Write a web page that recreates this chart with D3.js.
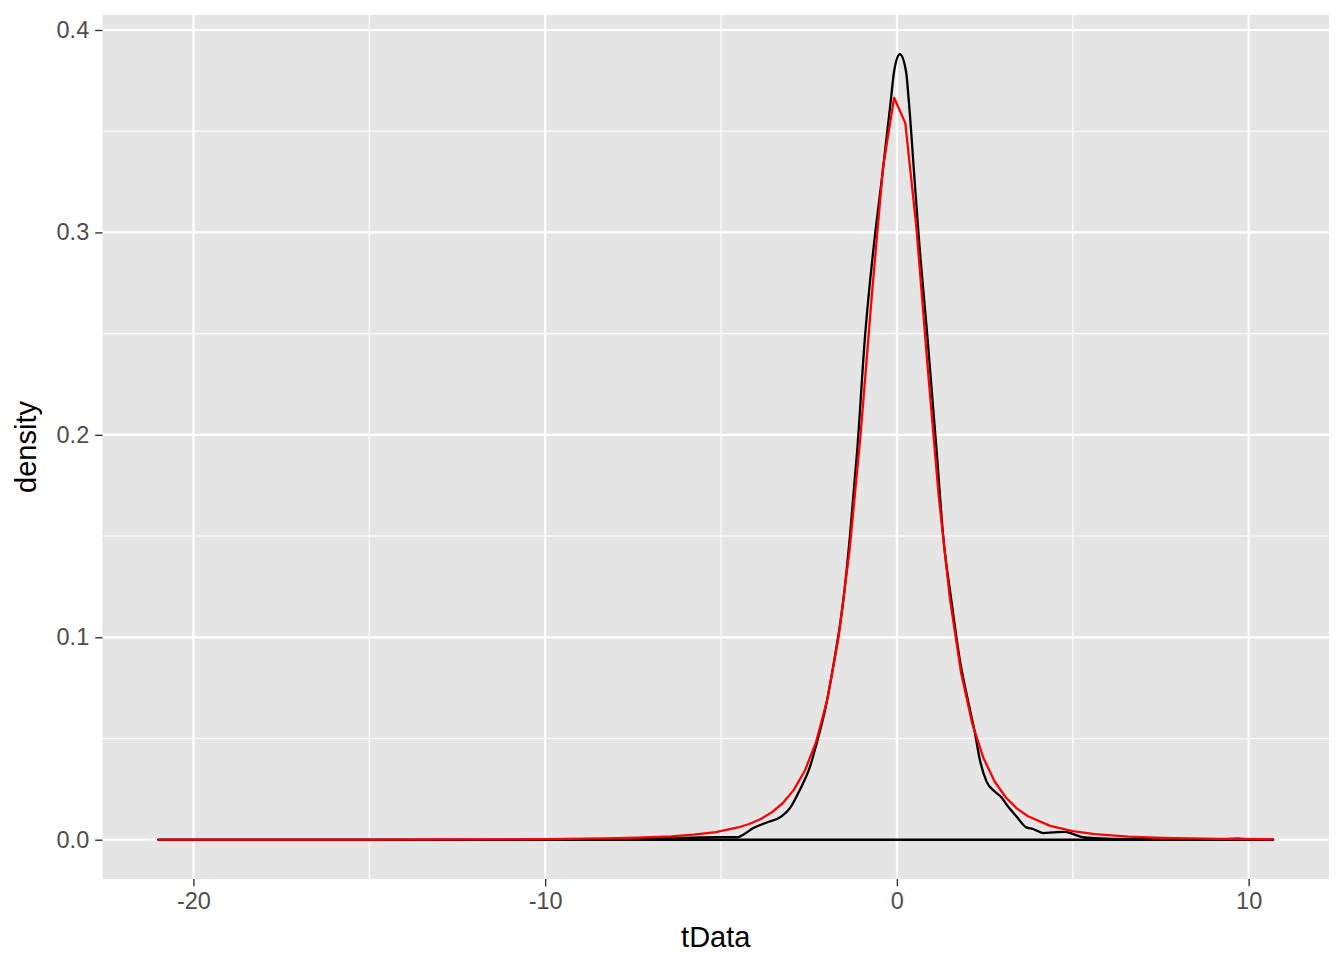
<!DOCTYPE html>
<html>
<head>
<meta charset="utf-8">
<script src="https://cdn.jsdelivr.net/npm/d3@7"></script>
<style>
  body { margin: 0; background: #ffffff; }
  svg { display: block; font-family: "Liberation Sans", Arial, Helvetica, sans-serif; }
  .grid-major { stroke: #ffffff; stroke-width: 2.2; }
  .grid-minor { stroke: #ffffff; stroke-width: 1.1; }
  .axis line { stroke: #333333; stroke-width: 1.4; }
  .axis text { fill: #4d4d4d; font-size: 23.5px; }
  .axis-title { fill: #000000; font-size: 29px; }
</style>
</head>
<body>
<svg id="chart" width="1344" height="960"></svg>
<script>
// Kernel density of tData (black)
var densityX = [-21, -19, -15, -11, -8, -6.5, -5.6, -5, -4.51, -4.37, -4.08, -3.70, -3.28, -3.04, -2.76,
  -2.47, -2.28, -2.045, -1.78, -1.525, -1.335, -1.13, -0.90, -0.64, -0.41, -0.176, -0.08, 0.085, 0.26,
  0.34, 0.49, 0.63, 0.86, 1.13, 1.316, 1.55, 1.79, 2.03, 2.22, 2.36, 2.55, 2.78, 2.97, 3.16, 3.40, 3.68,
  3.87, 4.16, 4.44, 4.77, 5.01, 5.29, 5.77, 6.5, 7.5, 8.5, 9.3, 9.7, 10.1, 10.7];
var densityY = [0.0001, 0.0001, 0.0001, 0.0001, 0.0002, 0.0008, 0.0012, 0.0013, 0.0013, 0.0025, 0.0058,
  0.0085, 0.0115, 0.0156, 0.0246, 0.0361, 0.0477, 0.064, 0.0887, 0.118, 0.150, 0.192, 0.25, 0.296, 0.329,
  0.3647, 0.3795, 0.388, 0.3795, 0.3647, 0.329, 0.296, 0.25, 0.192, 0.150, 0.118, 0.0887, 0.068, 0.0526,
  0.0394, 0.0287, 0.0238, 0.0210, 0.0164, 0.0115, 0.0061, 0.0053, 0.0033, 0.0036, 0.0039, 0.0028, 0.0013,
  0.0007, 0.0003, 0.0002, 0.0001, 0.0002, 0.0005, 0.0002, 0.0001];

// Reference curve (red), sampled points as drawn
var refX = [-21, -17.83, -14.66, -11.49, -9.905, -8.32, -7.369, -6.418, -5.784, -5.15, -4.516, -4.199,
  -3.882, -3.565, -3.248, -2.931, -2.614, -2.297, -1.98, -1.663, -1.346, -1.029, -0.712, -0.395, -0.078,
  0.239, 0.556, 0.873, 1.19, 1.507, 1.824, 2.141, 2.458, 2.775, 3.092, 3.409, 3.726, 4.36, 4.994, 5.628,
  6.579, 7.53, 9.115, 10.7];
var refY = [0.00002, 0.00003, 0.00007, 0.00018, 0.00032, 0.00063, 0.00101, 0.00169, 0.00249, 0.0038,
  0.00605, 0.00777, 0.01013, 0.01341, 0.01802, 0.02462, 0.03422, 0.0483, 0.06907, 0.0995, 0.1429, 0.2008,
  0.269, 0.3322, 0.3665, 0.3540, 0.3022, 0.2338, 0.1696, 0.1191, 0.0826, 0.0575, 0.0405, 0.0289, 0.02097,
  0.01547, 0.01161, 0.00683, 0.00424, 0.00275, 0.00154, 0.00093, 0.00045, 0.00024];

var xTicks = [-20, -10, 0, 10];
var xMinorTicks = [-15, -5, 5];
var yTicks = [0, 0.1, 0.2, 0.3, 0.4];
var yMinorTicks = [0.05, 0.15, 0.25, 0.35];

var PANEL = { left: 102.5, top: 15, right: 1329, bottom: 879 };
var TICK_LEN = 7.3;
var TICK_PAD = 6;

function zip(xs, ys) {
  var pts = [];
  for (var i = 0; i < xs.length; i++) {
    pts.push({ x: xs[i], y: ys[i] });
  }
  return pts;
}

// ggplot style 5% expansion
function expand(lo, hi) {
  var pad = (hi - lo) * 0.05;
  return [lo - pad, hi + pad];
}

function drawChart() {
  var svg = d3.select("#chart");

  var densityData = zip(densityX, densityY);
  var refData = zip(refX, refY);

  var xExt = d3.extent(densityX.concat(refX));
  var yMax = d3.max(densityY.concat(refY));

  var xScale = d3.scaleLinear()
    .domain(expand(xExt[0], xExt[1]))
    .range([PANEL.left, PANEL.right]);

  var yScale = d3.scaleLinear()
    .domain(expand(0, yMax))
    .range([PANEL.bottom, PANEL.top]);

  // panel background
  svg.append("rect")
    .attr("x", PANEL.left)
    .attr("y", PANEL.top)
    .attr("width", PANEL.right - PANEL.left)
    .attr("height", PANEL.bottom - PANEL.top)
    .attr("fill", "#e5e5e5");

  var grid = svg.append("g");

  grid.selectAll(".gx-minor").data(xMinorTicks).enter().append("line")
    .attr("class", "grid-minor")
    .attr("x1", function (d) { return xScale(d); })
    .attr("x2", function (d) { return xScale(d); })
    .attr("y1", PANEL.top).attr("y2", PANEL.bottom);

  grid.selectAll(".gy-minor").data(yMinorTicks).enter().append("line")
    .attr("class", "grid-minor")
    .attr("y1", function (d) { return yScale(d); })
    .attr("y2", function (d) { return yScale(d); })
    .attr("x1", PANEL.left).attr("x2", PANEL.right);

  grid.selectAll(".gx-major").data(xTicks).enter().append("line")
    .attr("class", "grid-major")
    .attr("x1", function (d) { return xScale(d); })
    .attr("x2", function (d) { return xScale(d); })
    .attr("y1", PANEL.top).attr("y2", PANEL.bottom);

  grid.selectAll(".gy-major").data(yTicks).enter().append("line")
    .attr("class", "grid-major")
    .attr("y1", function (d) { return yScale(d); })
    .attr("y2", function (d) { return yScale(d); })
    .attr("x1", PANEL.left).attr("x2", PANEL.right);

  // density outline, closed along the baseline like geom_density
  var densityLine = d3.line()
    .x(function (d) { return xScale(d.x); })
    .y(function (d) { return yScale(d.y); })
    .curve(d3.curveMonotoneX);

  var first = densityData[0];
  var last = densityData[densityData.length - 1];
  var outline = densityLine(densityData) +
    "L" + xScale(last.x) + "," + yScale(0) +
    "L" + xScale(first.x) + "," + yScale(0) + "Z";

  svg.append("path")
    .attr("d", outline)
    .attr("fill", "none")
    .attr("stroke", "#000000")
    .attr("stroke-width", 2.3)
    .attr("stroke-linejoin", "round");

  var refLine = d3.line()
    .x(function (d) { return xScale(d.x); })
    .y(function (d) { return yScale(d.y); });

  svg.append("path")
    .datum(refData)
    .attr("d", refLine)
    .attr("fill", "none")
    .attr("stroke", "#ff0000")
    .attr("stroke-width", 2.3)
    .attr("stroke-linejoin", "round");

  // axes
  var xAxis = d3.axisBottom(xScale)
    .tickValues(xTicks)
    .tickSize(TICK_LEN)
    .tickPadding(TICK_PAD)
    .tickFormat(function (d) { return d < 0 ? "-" + Math.abs(d) : d; });

  var yAxis = d3.axisLeft(yScale)
    .tickValues(yTicks)
    .tickSize(TICK_LEN)
    .tickPadding(TICK_PAD)
    .tickFormat(d3.format(".1f"));

  var gx = svg.append("g")
    .attr("class", "axis")
    .attr("transform", "translate(0," + PANEL.bottom + ")")
    .call(xAxis);
  gx.select(".domain").remove();

  var gy = svg.append("g")
    .attr("class", "axis")
    .attr("transform", "translate(" + PANEL.left + ",0)")
    .call(yAxis);
  gy.select(".domain").remove();

  svg.selectAll(".axis").attr("font-size", null).attr("font-family", null);

  // axis titles
  svg.append("text")
    .attr("class", "axis-title")
    .attr("x", (PANEL.left + PANEL.right) / 2)
    .attr("y", 947)
    .attr("text-anchor", "middle")
    .text("tData");

  svg.append("text")
    .attr("class", "axis-title")
    .attr("transform", "translate(36," + ((PANEL.top + PANEL.bottom) / 2) + ") rotate(-90)")
    .attr("text-anchor", "middle")
    .text("density");
}

drawChart();
</script>
</body>
</html>
